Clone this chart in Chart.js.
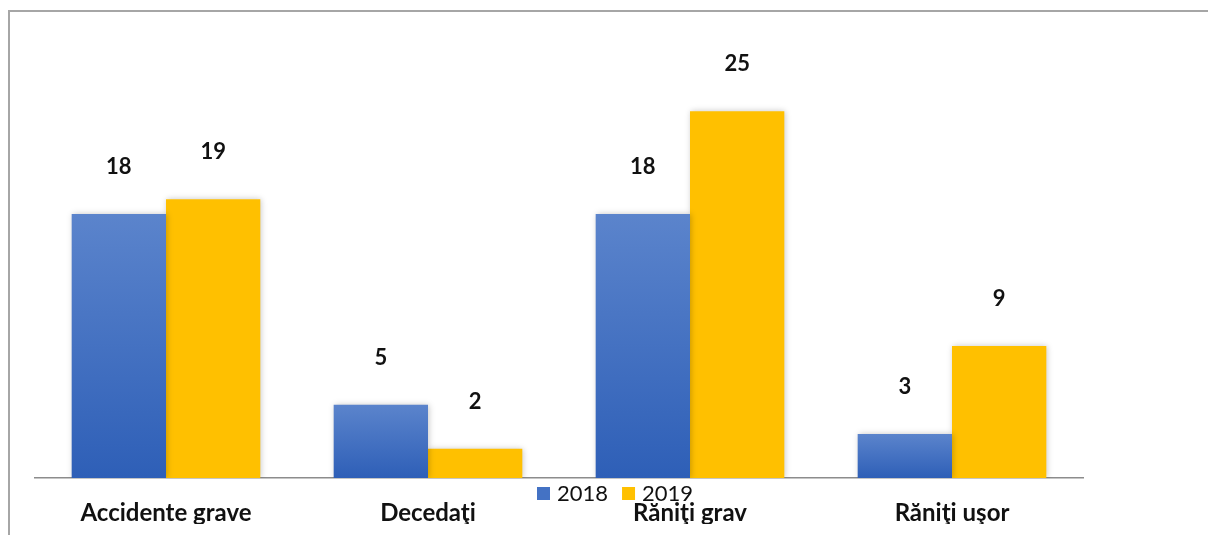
<!DOCTYPE html>
<html>
<head>
<meta charset="utf-8">
<script src="https://cdn.jsdelivr.net/npm/chart.js@4.4.1/dist/chart.umd.min.js"></script>
<style>
    html, body { margin: 0; padding: 0; background: #fff; overflow: hidden; }
    #wrap { position: relative; width: 1208px; height: 535px; }
    #frame { position: absolute; left: 8px; top: 10px; width: 1300px; height: 600px;
             border-left: 2px solid #a6a6a6; border-top: 2px solid #a6a6a6; }
    canvas { position: absolute; left: 0; top: 0; }
</style>
</head>
<body>
<div id="wrap">
    <div id="frame"></div>
    <canvas id="chart" width="1208" height="535"></canvas>
</div>
<script>
const categories = ['Accidente grave', 'Decedaţi', 'Răniţi grav', 'Răniţi uşor'];
const seriesNames = ['2018', '2019'];
const values2018 = [18, 5, 18, 3];
const values2019 = [19, 2, 25, 9];

const FONT = 'Lato, "Open Sans", sans-serif';

// blue bars get a light-to-dark gradient over each bar's own height
function blueFill(ctx) {
    const chart = ctx.chart;
    const area = chart.chartArea;
    if (!area || ctx.dataIndex === undefined) return '#4472c4';
    const y = chart.scales.y;
    const top = y.getPixelForValue(ctx.raw);
    const base = y.getPixelForValue(0);
    const g = chart.ctx.createLinearGradient(0, top, 0, base);
    g.addColorStop(0, '#5b84cc');
    g.addColorStop(1, '#2e5fb7');
    return g;
}

const barShadow = {
    id: 'barShadow',
    beforeDatasetsDraw(chart) {
        const c = chart.ctx;
        c.save();
        c.shadowColor = 'rgba(0,0,0,0.22)';
        c.shadowBlur = 6;
        c.shadowOffsetX = 1;
        c.shadowOffsetY = 0;
    },
    afterDatasetsDraw(chart) {
        chart.ctx.restore();
    }
};

const valueLabels = {
    id: 'valueLabels',
    afterDraw(chart) {
        const c = chart.ctx;
        c.save();
        c.font = 'bold 22px ' + FONT;
        c.fillStyle = '#111';
        c.textAlign = 'center';
        c.textBaseline = 'middle';
        chart.data.datasets.forEach((ds, i) => {
            chart.getDatasetMeta(i).data.forEach((bar, j) => {
                c.fillText(ds.data[j], bar.x, bar.y - 47);
            });
        });
        c.restore();
    }
};

const bottomLegend = {
    id: 'bottomLegend',
    afterDraw(chart) {
        const c = chart.ctx;
        c.save();
        c.font = '22px ' + FONT;
        c.textBaseline = 'middle';
        const cy = 494;
        let x = 537;
        chart.data.datasets.forEach((ds, i) => {
            c.fillStyle = i === 0 ? '#4472c4' : '#ffc000';
            c.fillRect(x, cy - 7, 13, 13);
            c.fillStyle = '#111';
            c.fillText(ds.label, x + 20, cy);
            x += 20 + c.measureText(ds.label).width + 14;
        });
        c.restore();
    }
};

new Chart(document.getElementById('chart'), {
    type: 'bar',
    data: {
        labels: categories,
        datasets: [
            { label: seriesNames[0], data: values2018, backgroundColor: blueFill },
            { label: seriesNames[1], data: values2019, backgroundColor: '#ffc000' }
        ]
    },
    options: {
        responsive: false,
        animation: false,
        layout: { padding: { left: 35, right: 125, top: 38, bottom: 11 } },
        datasets: { bar: { barPercentage: 1, categoryPercentage: 0.72 } },
        plugins: { legend: { display: false }, tooltip: { enabled: false } },
        scales: {
            x: {
                grid: { display: false },
                border: { display: true, color: '#8c8c8c', width: 1.5 },
                ticks: { color: '#111', padding: 13, font: { family: FONT, size: 24, weight: 'bold' } },
                afterFit(scale) { scale.height = 46; }
            },
            y: { display: false, min: 0, max: 30 }
        }
    },
    plugins: [barShadow, valueLabels, bottomLegend]
});
</script>
</body>
</html>
